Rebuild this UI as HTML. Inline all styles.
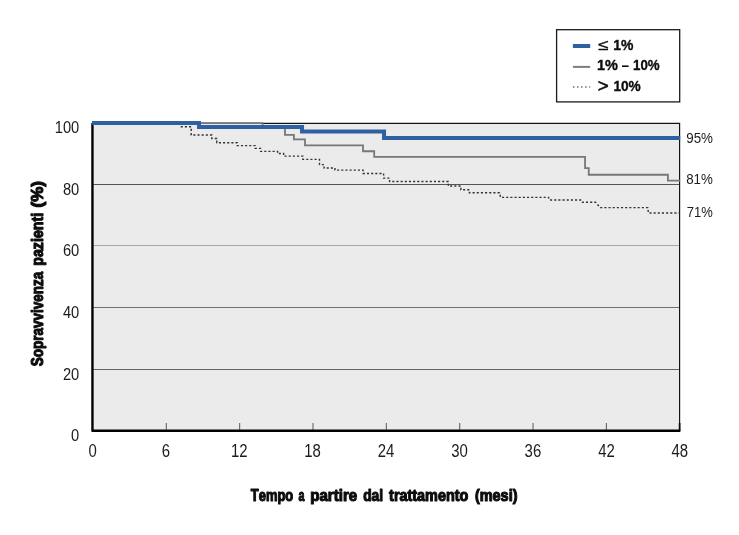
<!DOCTYPE html>
<html><head><meta charset="utf-8"><title>Sopravvivenza pazienti</title>
<style>html,body{margin:0;padding:0;background:#fff;}svg{display:block;}text{font-kerning:none;white-space:pre;}</style></head>
<body>
<svg width="739" height="535" viewBox="0 0 739 535" font-family='"Liberation Sans", sans-serif'>
<rect x="0" y="0" width="739" height="535" fill="#ffffff"/>
<rect x="92" y="123" width="588" height="308" fill="#ebebeb"/>
<line x1="93" x2="679" y1="184.5" y2="184.5" stroke="#555" stroke-width="1"/>
<line x1="93" x2="679" y1="245.5" y2="245.5" stroke="#a8a8a8" stroke-width="1"/>
<line x1="93" x2="679" y1="307.5" y2="307.5" stroke="#707070" stroke-width="1"/>
<line x1="93" x2="679" y1="369.5" y2="369.5" stroke="#646464" stroke-width="1"/>
<line x1="166.30" x2="166.30" y1="423.1" y2="430" stroke="#666" stroke-width="1.1"/>
<line x1="239.65" x2="239.65" y1="423.1" y2="430" stroke="#666" stroke-width="1.1"/>
<line x1="313.00" x2="313.00" y1="423.1" y2="430" stroke="#666" stroke-width="1.1"/>
<line x1="386.35" x2="386.35" y1="423.1" y2="430" stroke="#666" stroke-width="1.1"/>
<line x1="459.70" x2="459.70" y1="423.1" y2="430" stroke="#666" stroke-width="1.1"/>
<line x1="533.05" x2="533.05" y1="423.1" y2="430" stroke="#666" stroke-width="1.1"/>
<line x1="606.40" x2="606.40" y1="423.1" y2="430" stroke="#666" stroke-width="1.1"/>
<path d="M93,123.4 L679.6,123.4 L679.6,430" fill="none" stroke="#141414" stroke-width="1.2"/>
<line x1="679.6" x2="679.6" y1="423" y2="431" stroke="#0a0a0a" stroke-width="1.7"/>
<path d="M180.70,126.80 L191.20,126.80 L191.20,135.00 L211.80,135.00 L211.80,138.50 L216.80,138.50 L216.80,142.70 L237.20,142.70 L237.20,145.60 L255.00,145.60 L255.00,148.40 L260.60,148.40 L260.60,151.40 L277.60,151.40 L277.60,153.50 L283.60,153.50 L283.60,156.10 L302.80,156.10 L302.80,159.35 L319.50,159.35 L319.50,164.60 L324.10,164.60 L324.10,168.00 L335.00,168.00 L335.00,170.10 L363.10,170.10 L363.10,173.50 L383.60,173.50 L383.60,178.10 L389.60,178.10 L389.60,181.45 L448.30,181.45 L448.30,186.00 L460.90,186.00 L460.90,189.70 L469.40,189.70 L469.40,192.70 L499.60,192.70 L500.60,197.40 L548.60,197.40 L549.40,200.00 L581.50,200.00 L582.50,202.30 L595.60,202.30 L600.20,207.60 L647.80,207.60 L648.40,213.00 L679.50,213.00" fill="none" stroke="#333" stroke-width="1.4" stroke-dasharray="2.1 2.06"/>
<path d="M199.00,123.10 L262.60,123.10 L262.60,127.00 L284.95,127.00 L284.95,134.90 L293.90,134.90 L293.90,139.30 L305.00,139.30 L305.00,145.45 L363.00,145.45 L363.00,151.25 L374.20,151.25 L374.20,156.90 L585.05,156.90 L585.05,168.10 L588.75,168.10 L588.75,174.75 L667.90,174.75 L667.90,180.70 L680.00,180.70" fill="none" stroke="#777" stroke-width="1.8"/>
<path d="M92.45,123 L92.45,430.8 L680.3,430.8" fill="none" stroke="#000" stroke-width="2.4" stroke-linejoin="round"/>
<path d="M92.00,122.90 L199.00,122.90 L199.00,126.95 L302.05,126.95 L302.05,131.60 L384.05,131.60 L384.05,138.00 L680.20,138.00" fill="none" stroke="#2e61a1" stroke-width="4"/>
<rect x="556.6" y="29.7" width="123.1" height="72.2" fill="#fff" stroke="#1a1a1a" stroke-width="1.3"/>
<line x1="572.9" x2="590.2" y1="46" y2="46" stroke="#2e61a1" stroke-width="4"/>
<line x1="572.9" x2="590.2" y1="66.9" y2="66.9" stroke="#7d7d7d" stroke-width="2"/>
<line x1="572.9" x2="590.2" y1="87" y2="87" stroke="#333" stroke-width="1.2" stroke-dasharray="1.6 2.45"/>
<g style="will-change:transform">
<text transform="translate(54.75,132.90) scale(0.8850,1.02)" font-size="16.6" font-weight="normal" fill="#1c1c1c">100</text>
<text transform="translate(62.91,194.60) scale(0.8850,1.02)" font-size="16.6" font-weight="normal" fill="#1c1c1c">80</text>
<text transform="translate(62.91,256.30) scale(0.8850,1.02)" font-size="16.6" font-weight="normal" fill="#1c1c1c">60</text>
<text transform="translate(62.91,318.00) scale(0.8850,1.02)" font-size="16.6" font-weight="normal" fill="#1c1c1c">40</text>
<text transform="translate(62.91,380.00) scale(0.8850,1.02)" font-size="16.6" font-weight="normal" fill="#1c1c1c">20</text>
<text transform="translate(71.06,441.00) scale(0.8850,1.02)" font-size="16.6" font-weight="normal" fill="#1c1c1c">0</text>
<text transform="translate(88.42,457.00) scale(0.9000,1.075)" font-size="16.6" font-weight="normal" fill="#1c1c1c">0</text>
<text transform="translate(161.76,457.00) scale(0.9000,1.075)" font-size="16.6" font-weight="normal" fill="#1c1c1c">6</text>
<text transform="translate(230.88,457.00) scale(0.9000,1.075)" font-size="16.6" font-weight="normal" fill="#1c1c1c">12</text>
<text transform="translate(304.19,457.00) scale(0.9000,1.075)" font-size="16.6" font-weight="normal" fill="#1c1c1c">18</text>
<text transform="translate(377.68,457.00) scale(0.9000,1.075)" font-size="16.6" font-weight="normal" fill="#1c1c1c">24</text>
<text transform="translate(451.17,457.00) scale(0.9000,1.075)" font-size="16.6" font-weight="normal" fill="#1c1c1c">30</text>
<text transform="translate(524.59,457.00) scale(0.9000,1.075)" font-size="16.6" font-weight="normal" fill="#1c1c1c">36</text>
<text transform="translate(598.19,457.00) scale(0.9000,1.075)" font-size="16.6" font-weight="normal" fill="#1c1c1c">42</text>
<text transform="translate(671.50,457.00) scale(0.9000,1.075)" font-size="16.6" font-weight="normal" fill="#1c1c1c">48</text>
<text transform="translate(686.20,142.95) scale(0.8064,0.9333)" font-size="16.6" font-weight="normal" fill="#1c1c1c">95%</text>
<text transform="translate(686.20,184.05) scale(0.8032,0.9163)" font-size="16.6" font-weight="normal" fill="#1c1c1c">81%</text>
<text transform="translate(686.85,217.02) scale(0.7833,0.9294)" font-size="16.6" font-weight="normal" fill="#1c1c1c">71%</text>
<text transform="translate(250.79,500.90) scale(0.8043,1)" font-size="16.1" font-weight="bold" fill="#0c0c0c" stroke="#0c0c0c" stroke-width="1.1" stroke-linejoin="round">Tempo</text>
<text transform="translate(298.50,500.90) scale(0.6687,1)" font-size="16.1" font-weight="bold" fill="#0c0c0c" stroke="#0c0c0c" stroke-width="1.1" stroke-linejoin="round">a</text>
<text transform="translate(310.24,500.90) scale(0.9381,1)" font-size="16.1" font-weight="bold" fill="#0c0c0c" stroke="#0c0c0c" stroke-width="1.1" stroke-linejoin="round">partire</text>
<text transform="translate(363.17,500.90) scale(0.8589,1)" font-size="16.1" font-weight="bold" fill="#0c0c0c" stroke="#0c0c0c" stroke-width="1.1" stroke-linejoin="round">dal</text>
<text transform="translate(389.08,500.90) scale(0.8953,1)" font-size="16.1" font-weight="bold" fill="#0c0c0c" stroke="#0c0c0c" stroke-width="1.1" stroke-linejoin="round">trattamento</text>
<text transform="translate(474.90,500.90) scale(0.8986,1)" font-size="16.1" font-weight="bold" fill="#0c0c0c" stroke="#0c0c0c" stroke-width="1.1" stroke-linejoin="round">(mesi)</text>
<text transform="translate(42.85,366.28) rotate(-90) scale(0.8379,1)" font-size="16.1" font-weight="bold" fill="#0c0c0c" stroke="#0c0c0c" stroke-width="1.1" stroke-linejoin="round">Sopravvivenza</text>
<text transform="translate(42.85,265.81) rotate(-90) scale(0.8851,1)" font-size="16.1" font-weight="bold" fill="#0c0c0c" stroke="#0c0c0c" stroke-width="1.1" stroke-linejoin="round">pazienti</text>
<text transform="translate(42.85,207.53) rotate(-90) scale(1.0570,1)" font-size="16.1" font-weight="bold" fill="#0c0c0c" stroke="#0c0c0c" stroke-width="1.1" stroke-linejoin="round">(%)</text>
<text transform="translate(598.04,49.60) scale(1.2987,1.0490)" font-size="14.3" font-weight="normal" fill="#0c0c0c" stroke="#0c0c0c" stroke-width="0.45" stroke-linejoin="round">≤</text>
<text transform="translate(613.36,49.60) scale(0.9770,1)" font-size="14.3" font-weight="bold" fill="#0c0c0c" stroke="#0c0c0c" stroke-width="0.35" stroke-linejoin="round">1%</text>
<text transform="translate(596.93,70.30) scale(1.0130,1)" font-size="14.3" font-weight="bold" fill="#0c0c0c" stroke="#0c0c0c" stroke-width="0.35" stroke-linejoin="round">1%</text>
<text transform="translate(622.00,71.88) scale(0.8316,1.6138)" font-size="14.3" font-weight="normal" fill="#0c0c0c">–</text>
<text transform="translate(633.00,70.30) scale(0.9312,1)" font-size="14.3" font-weight="bold" fill="#0c0c0c" stroke="#0c0c0c" stroke-width="0.35" stroke-linejoin="round">10%</text>
<text transform="translate(597.66,92.02) scale(1.3121,1.2324)" font-size="14.3" font-weight="normal" fill="#0c0c0c" stroke="#0c0c0c" stroke-width="0.45" stroke-linejoin="round">&gt;</text>
<text transform="translate(613.38,90.80) scale(0.9567,1)" font-size="14.3" font-weight="bold" fill="#0c0c0c" stroke="#0c0c0c" stroke-width="0.35" stroke-linejoin="round">10%</text>
</g>
</svg>
</body></html>
